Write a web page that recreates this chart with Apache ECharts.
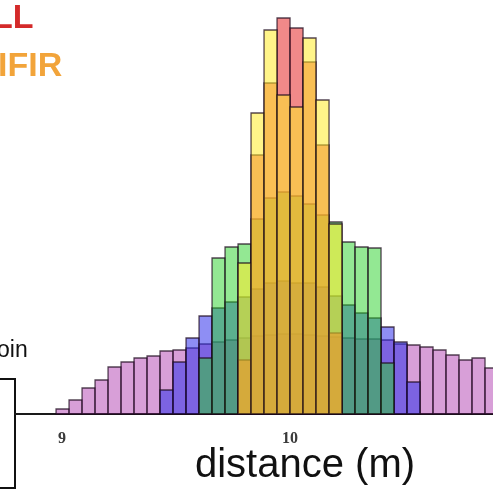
<!DOCTYPE html>
<html>
<head>
<meta charset="utf-8">
<script src="https://cdn.jsdelivr.net/npm/echarts@6/dist/echarts.min.js"></script>
<style>
  html, body { margin: 0; padding: 0; background: #ffffff; }
  #chart { width: 493px; height: 491px; }
</style>
</head>
<body>
<div id="chart"></div>
<script>
// Histogram bins: edge k sits at binOrigin + k * binWidth (metres)
const binOrigin = 10.0;
const binWidth = 0.057;

// Counts per bin, each list starting at its own first bin index
const purpleStart = -18;
const purpleCounts = [5, 14, 26, 34, 47, 52, 56, 58, 63, 64, 66, 70, 72, 74, 76, 78, 79, 80,
                      80, 79, 78, 77, 76, 75, 75, 74, 70, 69, 67, 64, 59, 54, 56, 46];
const blueStart = -10;
const blueCounts = [24, 52, 76, 98, 106, 112, 117, 125, 131, 133, 131, 131, 127, 118, 109, 101, 96, 87, 72, 32];
const greenStart = -7;
const greenCounts = [56, 156, 167, 170, 195, 216, 222, 218, 210, 199, 192, 172, 167, 166, 51];
const redStart = -4;
const redCounts = [54, 259, 331, 396, 386, 352, 269, 81];
const yellowStart = -4;
const yellowCounts = [151, 301, 384, 319, 307, 376, 314, 190];

// Axis tick labels
const tickValues = [9, 10];
const axisTitle = 'distance (m)';
const legendLabels = ['LL', 'IFIR'];
const noteLabel = 'oin';

function toBins(start, counts) {
  return counts.map((c, i) => {
    const k = start + i;
    return [binOrigin + k * binWidth, binOrigin + (k + 1) * binWidth, c];
  });
}

function histSeries(name, start, counts, fill) {
  return {
    type: 'custom',
    name: name,
    data: toBins(start, counts),
    encode: { x: [0, 1], y: 2 },
    renderItem: function (params, api) {
      const topLeft = api.coord([api.value(0), api.value(2)]);
      const bottomRight = api.coord([api.value(1), 0]);
      return {
        type: 'rect',
        shape: {
          x: topLeft[0],
          y: topLeft[1],
          width: bottomRight[0] - topLeft[0],
          height: bottomRight[1] - topLeft[1]
        },
        style: { fill: fill, stroke: 'rgba(30,10,30,0.75)', lineWidth: 1.3 }
      };
    }
  };
}

const chart = echarts.init(document.getElementById('chart'), null, { renderer: 'canvas' });

chart.setOption({
  backgroundColor: '#ffffff',
  animation: false,
  grid: { left: 15, right: 0, top: 14, bottom: 77 },
  xAxis: {
    type: 'value',
    min: 8.794,
    max: 10.890,
    axisLine: { show: true, lineStyle: { color: '#1a1a1a', width: 2 } },
    axisTick: { show: false },
    splitLine: { show: false },
    axisLabel: {
      customValues: tickValues,
      fontFamily: 'Liberation Serif',
      fontWeight: 'bold',
      fontSize: 16,
      color: '#3a3a3a',
      margin: 17
    }
  },
  yAxis: {
    type: 'value',
    min: 0,
    max: 400,
    show: false
  },
  series: [
    histSeries('purple', purpleStart, purpleCounts, 'rgba(180,70,180,0.52)'),
    histSeries('blue', blueStart, blueCounts, 'rgba(50,50,235,0.55)'),
    histSeries('green', greenStart, greenCounts, 'rgba(40,210,40,0.5)'),
    histSeries('LL', redStart, redCounts, 'rgba(230,40,40,0.55)'),
    histSeries('IFIR', yellowStart, yellowCounts, 'rgba(255,235,40,0.55)')
  ],
  graphic: [
    {
      type: 'text', left: -8, top: 2,
      style: { text: legendLabels[0], fontFamily: 'Liberation Sans', fontWeight: 'bold', fontSize: 34, fill: '#d42a2a' }
    },
    {
      type: 'text', left: -2, top: 50,
      style: { text: legendLabels[1], fontFamily: 'Liberation Sans', fontWeight: 'bold', fontSize: 34, fill: '#f2a43a' }
    },
    {
      type: 'text', left: -3, top: 339,
      style: { text: noteLabel, fontFamily: 'Liberation Sans', fontSize: 23, fill: '#111111' }
    },
    {
      type: 'rect',
      shape: { x: -10, y: 379, width: 25, height: 109 },
      style: { fill: 'none', stroke: '#111111', lineWidth: 2 }
    },
    {
      type: 'text', x: 305, y: 466,
      style: { text: axisTitle, fontFamily: 'Liberation Sans', fontSize: 40, fill: '#111111', align: 'center', verticalAlign: 'middle' }
    }
  ]
});
</script>
</body>
</html>
